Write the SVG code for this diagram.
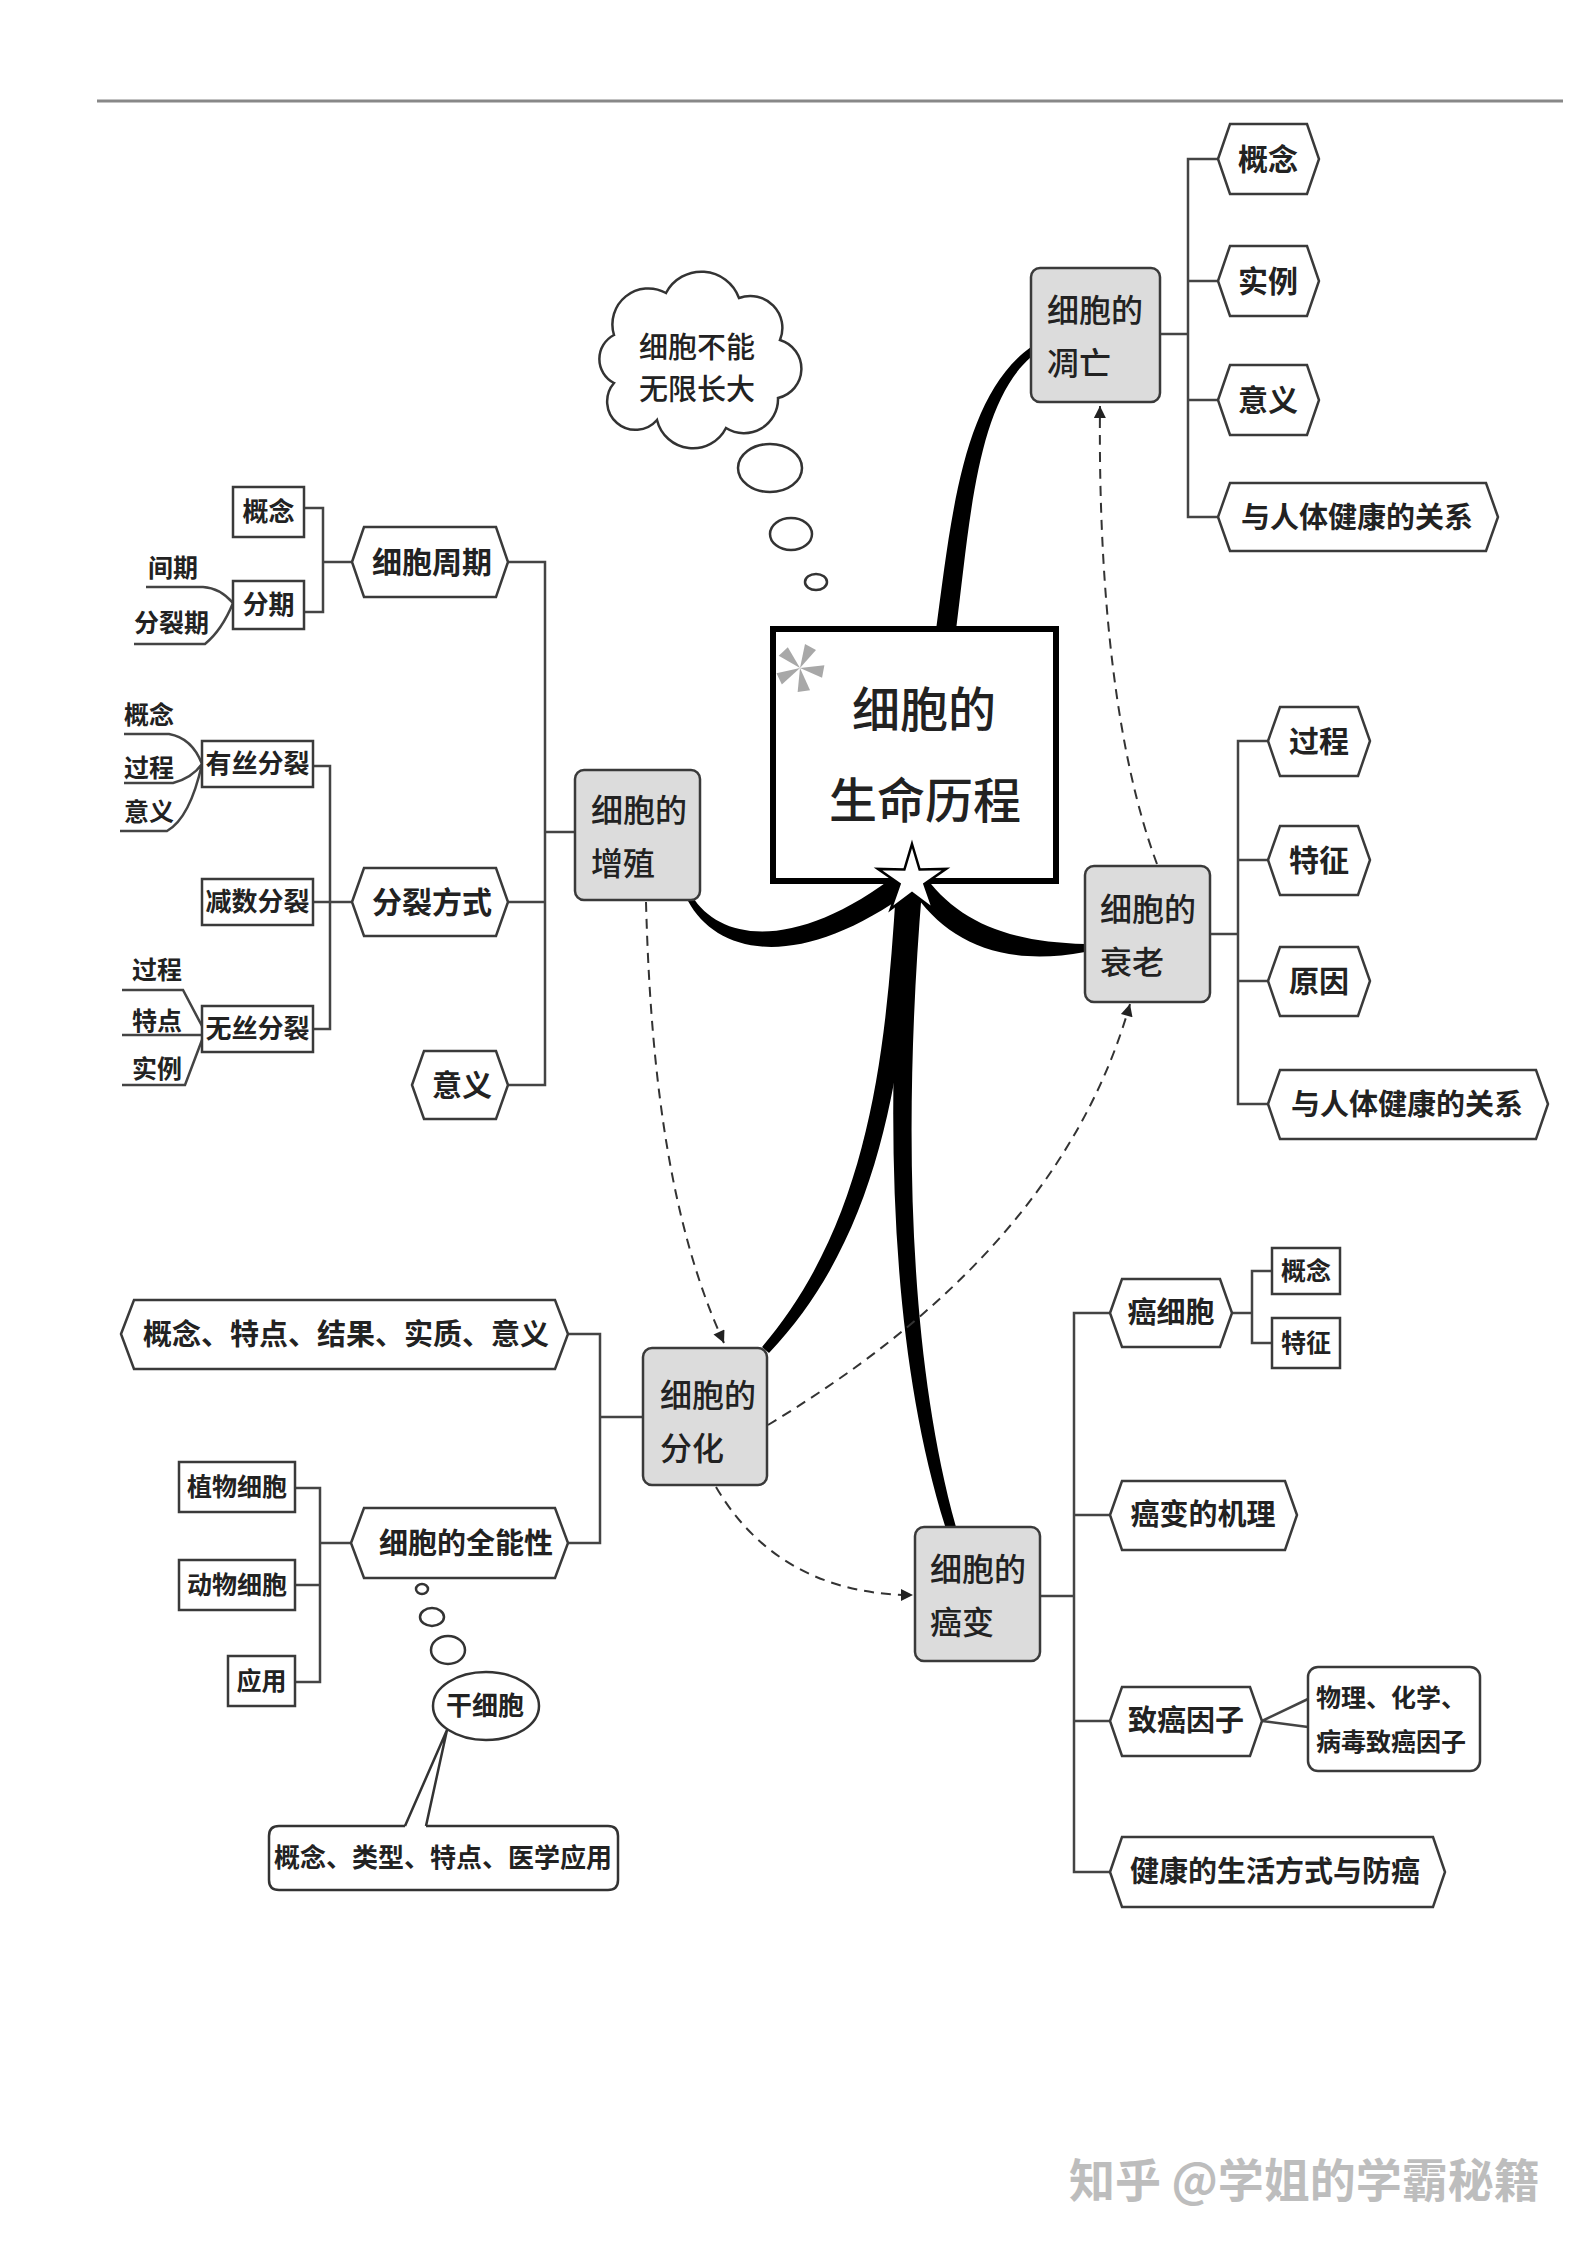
<svg xmlns="http://www.w3.org/2000/svg" width="1587" height="2245" viewBox="0 0 1587 2245">
<defs>
<style>
.t{font-family:"Noto Sans CJK SC","Noto Sans",sans-serif;fill:#222;font-weight:700}
.m{font-weight:500}
.c{text-anchor:middle}
.hex{fill:#fff;stroke:#3a3a3a;stroke-width:2.5}
.box{fill:#fff;stroke:#3a3a3a;stroke-width:2.5}
.main{fill:#dcdcdc;stroke:#3a3a3a;stroke-width:2.5}
.ln{fill:none;stroke:#444;stroke-width:2.5}
.dash{fill:none;stroke:#333;stroke-width:2;stroke-dasharray:10 7}
.thick{fill:#000}
.bub{fill:#fff;stroke:#333;stroke-width:2.5}
</style>
<marker id="ah" viewBox="0 0 10 10" refX="10" refY="5" markerWidth="16" markerHeight="12" markerUnits="userSpaceOnUse" orient="auto">
<path d="M0,0 L10,5 L0,10 Z" fill="#222"/>
</marker>
</defs>
<rect width="1587" height="2245" fill="#fff"/>
<line x1="97" y1="101" x2="1563" y2="101" stroke="#888" stroke-width="3"/>

<!-- connectors -->
<g id="connectors">
<path class="thick" d="M936,630 C951,520 962,396 1031,347 L1031,357 C976,405 970,522 956,630 Z"/>
<path class="thick" d="M692,896 C722,944 800,950 900,872 L912,890 C800,972 718,956 688,901 Z"/>
<path class="thick" d="M922,872 C955,920 1005,942 1085,944 L1085,952 C1000,968 945,940 912,890 Z"/>
<path class="thick" d="M896,890 C886,1045 872,1218 762,1347 L769,1353 C888,1228 904,1050 916,890 Z"/>
<path class="thick" d="M903,890 C886,1095 886,1340 946,1529 L956,1527 C904,1340 905,1095 922,890 Z"/>
<path class="dash" d="M646,902 C650,1050 665,1215 724,1343" marker-end="url(#ah)"/>
<path class="dash" d="M1157,864 C1118,760 1098,600 1100,406" marker-end="url(#ah)"/>
<path class="dash" d="M768,1425 C900,1345 1070,1215 1130,1004" marker-end="url(#ah)"/>
<path class="dash" d="M716,1487 C760,1562 830,1595 913,1595" marker-end="url(#ah)"/>
<!-- 凋亡 brackets -->
<path class="ln" d="M1160,334 H1188 M1218,159 H1188 V517 H1218 M1188,281 H1218 M1188,400 H1218"/>
<!-- 衰老 brackets -->
<path class="ln" d="M1210,934 H1238 M1268,741 H1238 V1104 H1268 M1238,860 H1268 M1238,981 H1268"/>
<!-- 增殖 brackets -->
<path class="ln" d="M508,562 H545 V1085 H508 M508,902 H545 M545,832 H575"/>
<path class="ln" d="M304,508 H323 V612 H304 M323,562 H352"/>
<path class="ln" d="M146,587 H203 Q220,588 233,603 M134,644 H205 Q222,630 233,603"/>
<path class="ln" d="M313,766 H330 V1029 H313 M313,902 H352"/>
<path class="ln" d="M124,734 H169 Q192,738 202,764 M124,783 H173 Q192,778 202,764 M120,831 H167 Q190,818 202,764"/>
<path class="ln" d="M122,990 H183 L202,1026 M122,1035 H202 M122,1085 H185 L202,1040"/>
<!-- 分化 brackets -->
<path class="ln" d="M568,1334 H600 V1543 H568 M600,1417 H643"/>
<path class="ln" d="M295,1488 H320 V1682 H295 M295,1585 H320 M320,1543 H351"/>
<!-- 癌变 brackets -->
<path class="ln" d="M1040,1596 H1074 M1110,1313 H1074 V1872 H1110 M1074,1515 H1110 M1074,1721 H1110"/>
<path class="ln" d="M1232,1313 H1252 M1272,1271 H1252 V1343 H1272"/>
<path class="ln" d="M1262,1721 L1308,1699 M1262,1721 L1308,1727"/>
</g>

<!-- center -->
<g id="center">
<rect x="773" y="629" width="283" height="252" fill="#fff" stroke="#000" stroke-width="6"/>
<g transform="translate(800,668)" fill="#a8a8a8">
<polygon points="0,0 5,-24 16,-18"/>
<polygon points="0,0 5,-24 16,-18" transform="rotate(72)"/>
<polygon points="0,0 5,-24 16,-18" transform="rotate(144)"/>
<polygon points="0,0 5,-24 16,-18" transform="rotate(216)"/>
<polygon points="0,0 5,-24 16,-18" transform="rotate(288)"/>
</g>
<text class="t c m" x="924" y="727" font-size="48">细胞的</text>
<text class="t c m" x="925" y="818" font-size="48">生命历程</text>
<polygon points="912,844 919.6,869.5 946.2,868.9 924.4,884 933.2,909.1 912,893 890.8,909.1 899.6,884 877.8,868.9 904.4,869.5" fill="#fff" stroke="#000" stroke-width="2.5"/>
</g>

<!-- cloud -->
<g id="cloud">
<path class="bub" d="M614,335 A36,36 0 0 1 666,293 A40,40 0 0 1 739,298 A32,32 0 0 1 780,340 A30,30 0 0 1 778,398 A34,34 0 0 1 726,428 A37,37 0 0 1 657,420 A28,28 0 0 1 614,383 A27,27 0 0 1 614,335 Z"/>
<text class="t c m" x="697" y="358" font-size="29">细胞不能</text>
<text class="t c m" x="697" y="400" font-size="29">无限长大</text>
<ellipse class="bub" cx="770" cy="468" rx="32" ry="24"/>
<ellipse class="bub" cx="791" cy="534" rx="21" ry="16"/>
<ellipse class="bub" cx="816" cy="582" rx="11" ry="8"/>
</g>

<!-- 凋亡 -->
<g id="n-diaowang">
<rect class="main" x="1031" y="268" width="129" height="134" rx="9"/>
<text class="t m" x="1047" y="322" font-size="32">细胞的</text>
<text class="t m" x="1047" y="375" font-size="32">凋亡</text>
</g>
<g id="n-dw1"><polygon class="hex" points="1218,159 1230,124 1307,124 1319,159 1307,194 1230,194"/><text class="t c" x="1268" y="170" font-size="30">概念</text></g>
<g id="n-dw2"><polygon class="hex" points="1218,281 1230,246 1307,246 1319,281 1307,316 1230,316"/><text class="t c" x="1268" y="292" font-size="30">实例</text></g>
<g id="n-dw3"><polygon class="hex" points="1218,400 1230,365 1307,365 1319,400 1307,435 1230,435"/><text class="t c" x="1268" y="411" font-size="30">意义</text></g>
<g id="n-dw4"><polygon class="hex" points="1218,517 1230,483 1486,483 1498,517 1486,551 1230,551"/><text class="t c" x="1357" y="528" font-size="29">与人体健康的关系</text></g>

<!-- 衰老 -->
<g id="n-shuailao">
<rect class="main" x="1085" y="866" width="125" height="136" rx="9"/>
<text class="t m" x="1100" y="921" font-size="32">细胞的</text>
<text class="t m" x="1100" y="974" font-size="32">衰老</text>
</g>
<g id="n-sl1"><polygon class="hex" points="1268,741 1280,707 1358,707 1370,741 1358,776 1280,776"/><text class="t c" x="1319" y="752" font-size="30">过程</text></g>
<g id="n-sl2"><polygon class="hex" points="1268,860 1280,826 1358,826 1370,860 1358,895 1280,895"/><text class="t c" x="1319" y="871" font-size="30">特征</text></g>
<g id="n-sl3"><polygon class="hex" points="1268,981 1280,947 1358,947 1370,981 1358,1016 1280,1016"/><text class="t c" x="1319" y="992" font-size="30">原因</text></g>
<g id="n-sl4"><polygon class="hex" points="1268,1104 1280,1070 1536,1070 1548,1104 1536,1139 1280,1139"/><text class="t c" x="1407" y="1115" font-size="29">与人体健康的关系</text></g>

<!-- 增殖 -->
<g id="n-zengzhi">
<rect class="main" x="575" y="770" width="125" height="130" rx="9"/>
<text class="t m" x="591" y="822" font-size="32">细胞的</text>
<text class="t m" x="591" y="875" font-size="32">增殖</text>
</g>
<g id="n-zz1"><polygon class="hex" points="352,562 364,527 496,527 508,562 496,597 364,597"/><text class="t c" x="432" y="573" font-size="30">细胞周期</text></g>
<g id="n-zz2"><polygon class="hex" points="352,902 364,868 496,868 508,902 496,936 364,936"/><text class="t c" x="432" y="913" font-size="30">分裂方式</text></g>
<g id="n-zz3"><polygon class="hex" points="412,1085 424,1051 496,1051 508,1085 496,1119 424,1119"/><text class="t c" x="462" y="1096" font-size="30">意义</text></g>
<g id="n-zq1"><rect class="box" x="233" y="487" width="71" height="50"/><text class="t c" x="268.5" y="521" font-size="26">概念</text></g>
<g id="n-zq2"><rect class="box" x="233" y="581" width="71" height="48"/><text class="t c" x="268.5" y="614" font-size="26">分期</text></g>
<text class="t" x="148" y="577" font-size="25">间期</text>
<text class="t" x="134" y="632" font-size="25">分裂期</text>
<g id="n-fl1"><rect class="box" x="202" y="741" width="111" height="46"/><text class="t c" x="257.5" y="773" font-size="26">有丝分裂</text></g>
<g id="n-fl2"><rect class="box" x="202" y="879" width="111" height="46"/><text class="t c" x="257.5" y="911" font-size="26">减数分裂</text></g>
<g id="n-fl3"><rect class="box" x="202" y="1006" width="111" height="46"/><text class="t c" x="257.5" y="1038" font-size="26">无丝分裂</text></g>
<text class="t" x="124" y="724" font-size="25">概念</text>
<text class="t" x="124" y="777" font-size="25">过程</text>
<text class="t" x="124" y="821" font-size="25">意义</text>
<text class="t" x="132" y="979" font-size="25">过程</text>
<text class="t" x="132" y="1030" font-size="25">特点</text>
<text class="t" x="132" y="1078" font-size="25">实例</text>

<!-- 分化 -->
<g id="n-fenhua">
<rect class="main" x="643" y="1348" width="124" height="137" rx="9"/>
<text class="t m" x="660" y="1407" font-size="32">细胞的</text>
<text class="t m" x="660" y="1460" font-size="32">分化</text>
</g>
<g id="n-fh1"><polygon class="hex" points="121,1334 134,1300 555,1300 568,1334 555,1369 134,1369"/><text class="t c" x="346" y="1345" font-size="29">概念、特点、结果、实质、意义</text></g>
<g id="n-fh2"><polygon class="hex" points="351,1543 364,1508 555,1508 568,1543 555,1578 364,1578"/><text class="t c" x="466" y="1554" font-size="29">细胞的全能性</text></g>
<g id="n-qn1"><rect class="box" x="179" y="1462" width="116" height="50"/><text class="t c" x="237" y="1496" font-size="25">植物细胞</text></g>
<g id="n-qn2"><rect class="box" x="179" y="1560" width="116" height="50"/><text class="t c" x="237" y="1594" font-size="25">动物细胞</text></g>
<g id="n-qn3"><rect class="box" x="228" y="1656" width="67" height="50"/><text class="t c" x="261.5" y="1690" font-size="25">应用</text></g>
<ellipse class="bub" cx="422" cy="1589" rx="6" ry="5"/>
<ellipse class="bub" cx="432" cy="1617" rx="12" ry="9"/>
<ellipse class="bub" cx="448" cy="1650" rx="17" ry="14"/>
<g id="n-gan">
<path fill="#fff" stroke="#333" stroke-width="2.5" d="M405,1826 L447,1730 L426,1826"/>
<path fill="none" stroke="#333" stroke-width="2.5" d="M405,1826 H279 Q269,1826 269,1836 V1880 Q269,1890 279,1890 H608 Q618,1890 618,1880 V1836 Q618,1826 608,1826 H426"/>
<text class="t c" x="443" y="1867" font-size="26">概念、类型、特点、医学应用</text>
<ellipse class="bub" cx="486" cy="1706" rx="53" ry="34"/>
<text class="t c" x="485" y="1715" font-size="26">干细胞</text>
</g>

<!-- 癌变 -->
<g id="n-aibian">
<rect class="main" x="915" y="1527" width="125" height="134" rx="9"/>
<text class="t m" x="930" y="1581" font-size="32">细胞的</text>
<text class="t m" x="930" y="1634" font-size="32">癌变</text>
</g>
<g id="n-ab1"><polygon class="hex" points="1110,1313 1122,1279 1220,1279 1232,1313 1220,1347 1122,1347"/><text class="t c" x="1171" y="1323" font-size="29">癌细胞</text></g>
<g id="n-ab2"><polygon class="hex" points="1110,1515 1122,1481 1285,1481 1297,1515 1285,1550 1122,1550"/><text class="t c" x="1203" y="1525" font-size="29">癌变的机理</text></g>
<g id="n-ab3"><polygon class="hex" points="1110,1721 1122,1687 1250,1687 1262,1721 1250,1756 1122,1756"/><text class="t c" x="1186" y="1731" font-size="29">致癌因子</text></g>
<g id="n-ab4"><polygon class="hex" points="1110,1872 1122,1837 1433,1837 1445,1872 1433,1907 1122,1907"/><text class="t c" x="1275" y="1882" font-size="29">健康的生活方式与防癌</text></g>
<g id="n-ac1"><rect class="box" x="1272" y="1248" width="68" height="46"/><text class="t c" x="1306" y="1280" font-size="25">概念</text></g>
<g id="n-ac2"><rect class="box" x="1272" y="1318" width="68" height="50"/><text class="t c" x="1306" y="1352" font-size="25">特征</text></g>
<g id="n-ac3"><rect class="box" x="1308" y="1667" width="172" height="104" rx="10"/>
<text class="t" x="1316" y="1707" font-size="25">物理、化学、</text>
<text class="t" x="1316" y="1751" font-size="25">病毒致癌因子</text></g>

<text x="1069" y="2197" font-family="'Noto Sans CJK SC','Noto Sans',sans-serif" font-size="46" font-weight="700" fill="#bdbdbd">知乎 @学姐的学霸秘籍</text>
</svg>
